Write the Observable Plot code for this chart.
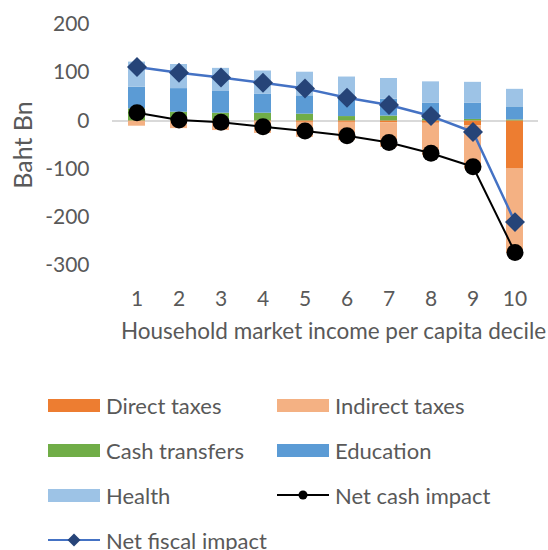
<!DOCTYPE html>
<html>
<head>
<meta charset="utf-8">
<script src="https://cdn.jsdelivr.net/npm/d3@7"></script>
<script src="https://cdn.jsdelivr.net/npm/@observablehq/plot@0.6"></script>
<style>
  body { margin: 0; background: #fff; }
  #wrap { position: relative; width: 548px; height: 550px; overflow: hidden; font-family: Lato, sans-serif; color: #595959; }
  .item { position: absolute; display: flex; align-items: center; font-size: 22px; white-space: nowrap; height: 30px; }
  .sw { width: 52px; height: 13px; margin-right: 6px; }
  .ln { width: 52px; height: 16px; margin-right: 6px; }
</style>
</head>
<body>
<div id="wrap">
  <div id="chart"></div>
  <div id="legend"></div>
</div>
<script>
const deciles = [1, 2, 3, 4, 5, 6, 7, 8, 9, 10];
const directTaxes   = [-1, -1, -1, -2, -3, -3, -4, -5, -10, -100];
const indirectTaxes = [-10, -15, -19, -24, -31, -38, -51, -67, -90, -175];
const cashTransfers = [25, 18, 16, 16, 14, 9, 10, 4, 3, 2];
const education     = [45, 49, 45, 39, 38, 36.5, 35, 33, 34, 27];
const health        = [52, 50, 48, 48.5, 49, 45.5, 43, 44, 43, 36.5];
const netCash       = [17, 2, -3, -12, -21, -31, -45, -67, -95, -273];
const netFiscal     = [112, 100, 90, 79, 67, 48, 33, 10, -23, -210];
const yTicks = [-300, -200, -100, 0, 100, 200];
const barSeries = ["Direct taxes", "Indirect taxes", "Cash transfers", "Education", "Health"];
const lineSeries = ["Net cash impact", "Net fiscal impact"];
const xTitle = "Household market income per capita decile";
const yTitle = "Baht Bn";

const barColors = ["#ED7D31", "#F4B183", "#70AD47", "#5B9BD5", "#9DC3E6"];
const barValues = [directTaxes, indirectTaxes, cashTransfers, education, health];

const rows = [];
barSeries.forEach((name, s) => deciles.forEach((d, i) => rows.push({decile: d, series: name, value: barValues[s][i]})));
const pts = deciles.map((d, i) => ({decile: d, cash: netCash[i], fiscal: netFiscal[i]}));

const chart = Plot.plot({
  width: 548,
  height: 380,
  marginLeft: 112,
  marginRight: 10,
  marginTop: 24,
  marginBottom: 115,
  style: {fontFamily: "Lato, sans-serif", fontSize: "21px", color: "#595959", background: "white"},
  x: {type: "band", domain: deciles, paddingInner: 0.6, paddingOuter: 0.3, label: null, tickSize: 0, tickPadding: 26},
  y: {domain: [-300, 200], ticks: yTicks, tickFormat: d => String(d), label: null, tickSize: 0, tickPadding: 23},
  color: {domain: barSeries, range: barColors},
  marks: [
    Plot.ruleY([0], {stroke: "#d9d9d9", strokeWidth: 2}),
    Plot.barY(rows, {x: "decile", y: "value", fill: "series"}),
    Plot.line(pts, {x: "decile", y: "cash", stroke: "black", strokeWidth: 2}),
    Plot.dot(pts, {x: "decile", y: "cash", r: 8.5, fill: "black"}),
    Plot.line(pts, {x: "decile", y: "fiscal", stroke: "#4472C4", strokeWidth: 2.5}),
    Plot.dot(pts, {x: "decile", y: "fiscal", symbol: "diamond2", r: 9, fill: "#264478"}),
    Plot.text([xTitle], {text: d => d, frameAnchor: "bottom", dy: 73, dx: 8, fontSize: 22.5, fill: "#595959"}),
    Plot.text([yTitle], {text: d => d, frameAnchor: "left", textAnchor: "middle", lineAnchor: "middle", rotate: -90, dx: -89, fontSize: 25, fill: "#595959"})
  ]
});
document.getElementById("chart").appendChild(chart);

// Legend (HTML, below the SVG)
const legend = document.getElementById("legend");
const entries = [
  ...barSeries.map((n, i) => ({name: n, kind: "bar", color: barColors[i]})),
  {name: lineSeries[0], kind: "cash"},
  {name: lineSeries[1], kind: "fiscal"}
];
const colX = [48, 277];
entries.forEach((e, k) => {
  const row = Math.floor(k / 2), col = k % 2;
  const div = document.createElement("div");
  div.className = "item";
  div.style.left = colX[col] + "px";
  div.style.top = (405 - 15 + row * 45) + "px";
  let sw;
  if (e.kind === "bar") {
    sw = `<div class="sw" style="background:${e.color}"></div>`;
  } else if (e.kind === "cash") {
    sw = `<svg class="ln" viewBox="0 0 52 16"><line x1="0" y1="8" x2="52" y2="8" stroke="black" stroke-width="2"/><circle cx="26" cy="8" r="4.5" fill="black"/></svg>`;
  } else {
    sw = `<svg class="ln" viewBox="0 0 52 16"><line x1="0" y1="8" x2="52" y2="8" stroke="#4472C4" stroke-width="2"/><path d="M26,1.5 L32.5,8 L26,14.5 L19.5,8 Z" fill="#264478"/></svg>`;
  }
  div.innerHTML = sw + `<span>${e.name}</span>`;
  legend.appendChild(div);
});
</script>
</body>
</html>
